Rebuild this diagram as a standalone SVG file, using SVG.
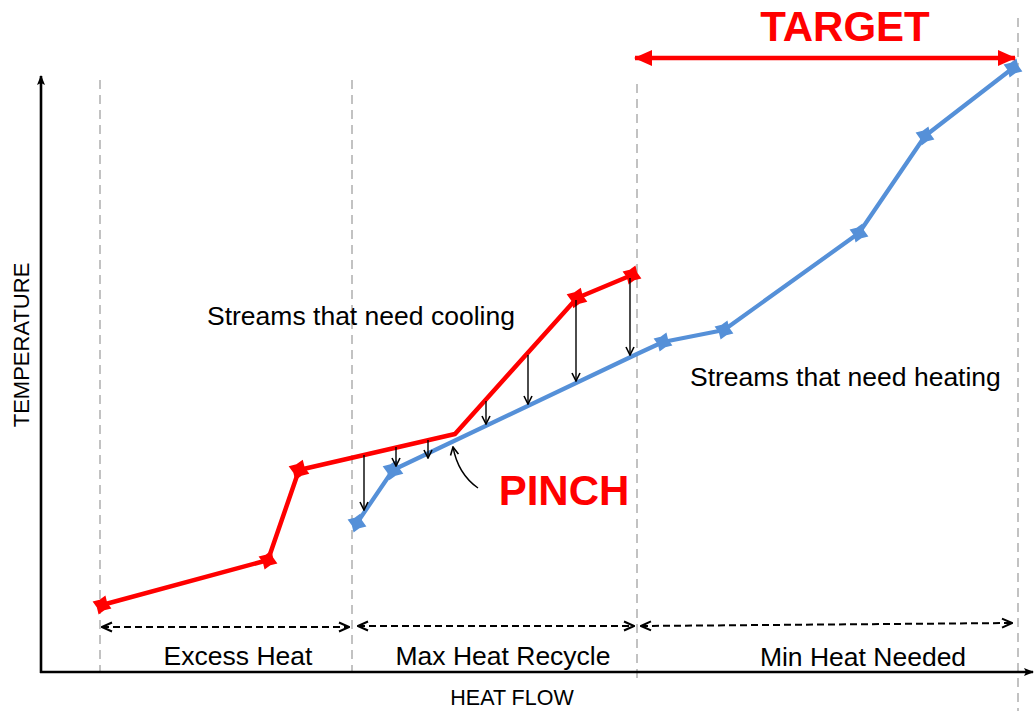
<svg xmlns="http://www.w3.org/2000/svg" width="1036" height="711" viewBox="0 0 1036 711">
<style>
.guide{stroke:#b3b3b3;stroke-width:1.6;stroke-dasharray:9,6;fill:none}
.axis{stroke:#000;stroke-width:2.6;fill:none}
.red{stroke:#ff0000;stroke-width:4.5;fill:none;stroke-linejoin:round}
.blue{stroke:#5590d8;stroke-width:4.2;fill:none;stroke-linejoin:round}
.drop{stroke:#000;stroke-width:1.4;fill:none}
.range{stroke:#000;stroke-width:2;stroke-dasharray:7,4;fill:none}
.lbl{font-family:"Liberation Sans",Arial,sans-serif;font-size:26.5px;fill:#000}
.cap{font-family:"Liberation Sans",Arial,sans-serif;font-size:21.5px;fill:#000}
.big{font-family:"Liberation Sans",Arial,sans-serif;font-size:42px;font-weight:bold;fill:#ff0000}
</style>
<defs>
<marker id="ah" viewBox="0 0 10 10" refX="9" refY="5" markerWidth="10" markerHeight="10" markerUnits="userSpaceOnUse" orient="auto">
<path d="M1,1 L9,5 L1,9" fill="none" stroke="#000" stroke-width="1.6"/>
</marker>
<marker id="ahd" viewBox="0 0 12 12" refX="11" refY="6" markerWidth="12" markerHeight="12" markerUnits="userSpaceOnUse" orient="auto-start-reverse">
<path d="M1,1.5 L11,6 L1,10.5" fill="none" stroke="#000" stroke-width="2" stroke-dasharray="none"/>
</marker>
<marker id="aha" viewBox="0 0 10 10" refX="9" refY="5" markerWidth="10" markerHeight="10" markerUnits="userSpaceOnUse" orient="auto">
<path d="M0,1 L10,5 L0,9 L2,5 Z" fill="#000"/>
</marker>
<marker id="aht" viewBox="0 0 18 18" refX="17" refY="9" markerWidth="18" markerHeight="18" markerUnits="userSpaceOnUse" orient="auto-start-reverse">
<path d="M0,1 L18,9 L0,17 Z" fill="#ff0000"/>
</marker>
<path id="star" d="M0,-10 L4,-4 L10,0 L4,4 L0,10 L-4,4 L-10,0 L-4,-4 Z"/>
</defs>

<g id="guides">
<line class="guide" x1="100" y1="80" x2="100" y2="672"/>
<line class="guide" x1="352" y1="80" x2="352" y2="672"/>
<line class="guide" x1="637" y1="84" x2="637" y2="678"/>
<line class="guide" x1="1018" y1="18" x2="1018" y2="711"/>
</g>

<g id="axes">
<line class="axis" x1="41" y1="673" x2="41" y2="76" marker-end="url(#aha)"/>
<line class="axis" x1="40" y1="672" x2="1033" y2="672" marker-end="url(#aha)"/>
</g>

<g id="cooling-stream">
<polyline class="red" points="102,605 268,560 299,470 455,434 577,298 632,275"/>
<use href="#star" fill="#ff0000" transform="translate(102,605) rotate(20)"/>
<use href="#star" fill="#ff0000" transform="translate(268,560) rotate(20)"/>
<use href="#star" fill="#ff0000" transform="translate(299,470) rotate(20) scale(1.1)"/>
<use href="#star" fill="#ff0000" transform="translate(577,298) rotate(20) scale(1.1)"/>
<use href="#star" fill="#ff0000" transform="translate(632,275) rotate(20)"/>
</g>

<g id="heating-stream">
<polyline class="blue" points="357,523 393,470 637,354 663,342 724,330 859,233 925,136 1013,68"/>
<use href="#star" fill="#5590d8" transform="translate(357,523) rotate(20)"/>
<use href="#star" fill="#5590d8" transform="translate(393,470) rotate(20) scale(1.1)"/>
<use href="#star" fill="#5590d8" transform="translate(663,342) rotate(20)"/>
<use href="#star" fill="#5590d8" transform="translate(724,330) rotate(20)"/>
<use href="#star" fill="#5590d8" transform="translate(859,233) rotate(20)"/>
<use href="#star" fill="#5590d8" transform="translate(925,136) rotate(20)"/>
<use href="#star" fill="#5590d8" transform="translate(1013,68) rotate(20)"/>
</g>

<g id="connectors">
<line class="drop" x1="364" y1="455" x2="364" y2="510" marker-end="url(#ah)"/>
<line class="drop" x1="396" y1="447" x2="396" y2="466" marker-end="url(#ah)"/>
<line class="drop" x1="428" y1="440" x2="428" y2="458" marker-end="url(#ah)"/>
<line class="drop" x1="486" y1="401" x2="486" y2="424" marker-end="url(#ah)"/>
<line class="drop" x1="528" y1="355" x2="528" y2="404" marker-end="url(#ah)"/>
<line class="drop" x1="576" y1="300" x2="576" y2="381" marker-end="url(#ah)"/>
<line class="drop" x1="630" y1="278" x2="630" y2="355" marker-end="url(#ah)"/>
<path class="drop" d="M478,488 Q458,474 453,447" marker-end="url(#ah)"/>
<line class="range" x1="102" y1="627" x2="349" y2="627" marker-start="url(#ahd)" marker-end="url(#ahd)"/>
<line class="range" x1="358" y1="626" x2="634" y2="626" marker-start="url(#ahd)" marker-end="url(#ahd)"/>
<line class="range" x1="641" y1="626" x2="1012" y2="623" marker-start="url(#ahd)" marker-end="url(#ahd)"/>
<line x1="635" y1="58" x2="1015" y2="58" stroke="#ff0000" stroke-width="4.5" marker-start="url(#aht)" marker-end="url(#aht)"/>
</g>

<g id="labels">
<text class="big" x="845" y="41" text-anchor="middle">TARGET</text>
<text class="big" x="564" y="505" text-anchor="middle">PINCH</text>
<text class="lbl" x="207" y="325">Streams that need cooling</text>
<text class="lbl" x="690" y="386">Streams that need heating</text>
<text class="lbl" x="238" y="665" text-anchor="middle">Excess Heat</text>
<text class="lbl" x="503" y="665" text-anchor="middle">Max Heat Recycle</text>
<text class="lbl" x="863" y="666" text-anchor="middle">Min Heat Needed</text>
<text class="cap" x="512" y="705" text-anchor="middle">HEAT FLOW</text>
<text class="cap" x="29" y="345" text-anchor="middle" transform="rotate(-90 29 345)" style="font-size:22px">TEMPERATURE</text>
</g>
</svg>
